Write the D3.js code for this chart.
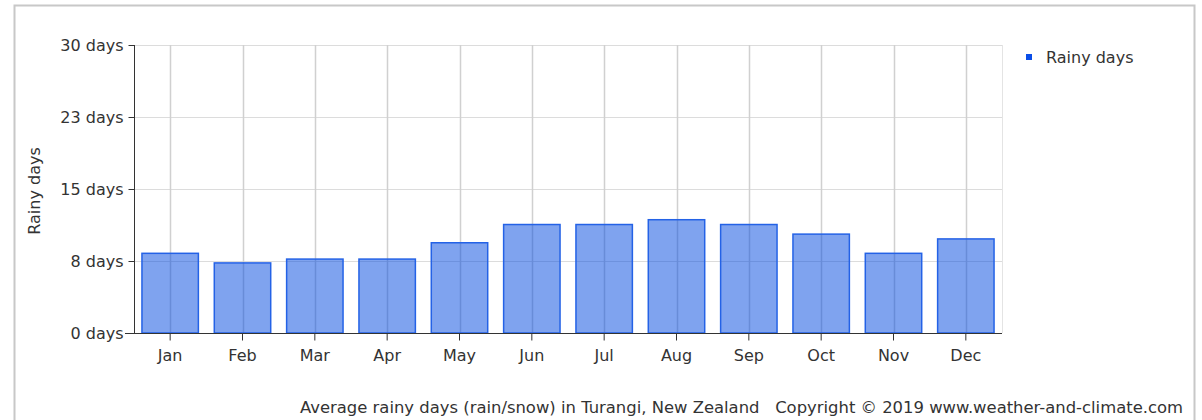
<!DOCTYPE html>
<html>
<head>
<title>Rainy days | Turangi</title>
<script src="https://d3js.org/d3.v7.min.js" charset="utf-8"></script>
<style>
 body { margin: 0; background: #fff; }
 text { font-family: Tahoma, "DejaVu Sans", "Liberation Sans", sans-serif; fill: #333; }
</style>
</head>
<body>
<script>
// chart data
var months = ["Jan","Feb","Mar","Apr","May","Jun","Jul","Aug","Sep","Oct","Nov","Dec"];
var rainyDays = [8.3, 7.3, 7.7, 7.7, 9.4, 11.3, 11.3, 11.8, 11.3, 10.3, 8.3, 9.8];
var yTicks = [0, 7.5, 15, 22.5, 30];
var yTickLabels = ["0 days", "8 days", "15 days", "23 days", "30 days"];

var width = 1202, height = 420;
var plotLeft = 134, plotRight = 1002, plotTop = 45, plotBottom = 333;
var fontFam = "Tahoma, 'DejaVu Sans', 'Liberation Sans', sans-serif";
var fs = 16;

var svg = d3.select("body").append("svg")
  .attr("width", width)
  .attr("height", height);

// outer frame
svg.append("path")
  .attr("d", "M14.5,430 V5.5 H1194.5 V430")
  .attr("fill", "none")
  .attr("stroke", "#c8c8c8")
  .attr("stroke-width", 2);

var x = d3.scaleBand().domain(months).range([plotLeft, plotRight]).paddingInner(0.22).paddingOuter(0.11);
var y = d3.scaleLinear().domain([0, 30]).range([plotBottom, plotTop]);

// grid
var grid = svg.append("g");
grid.selectAll(".hgrid")
  .data(yTicks)
  .enter().append("line")
  .attr("x1", plotLeft).attr("x2", plotRight)
  .attr("y1", function(d){ return Math.round(y(d)) + 0.5; })
  .attr("y2", function(d){ return Math.round(y(d)) + 0.5; })
  .attr("stroke", "#dcdcdc");
grid.selectAll(".vgrid")
  .data(months)
  .enter().append("line")
  .attr("x1", function(d){ return Math.round(x(d) + x.bandwidth()/2) + 0.5; })
  .attr("x2", function(d){ return Math.round(x(d) + x.bandwidth()/2) + 0.5; })
  .attr("y1", plotTop).attr("y2", plotBottom)
  .attr("stroke", "#d0d0d0")
  .attr("stroke-width", 1.5);
grid.append("line")
  .attr("x1", plotRight + 0.5).attr("x2", plotRight + 0.5)
  .attr("y1", plotTop).attr("y2", plotBottom)
  .attr("stroke", "#e4e4e4");

// bars
svg.append("g").selectAll("rect")
  .data(rainyDays)
  .enter().append("rect")
  .attr("x", function(d, i){ return x(months[i]); })
  .attr("width", x.bandwidth())
  .attr("y", function(d){ return y(d); })
  .attr("height", function(d){ return y(0) - y(d); })
  .attr("fill", "rgba(0,71,223,0.5)")
  .attr("stroke", "#2462e6")
  .attr("stroke-width", 1.5);

// y axis
var yAxis = d3.axisLeft(y)
  .tickValues(yTicks)
  .tickFormat(function(d, i){ return yTickLabels[i]; })
  .tickSize(6).tickPadding(5);
var gy = svg.append("g").attr("transform", "translate(" + (plotLeft + 0.5) + ",0)").call(yAxis);
gy.select(".domain").attr("stroke", "#333").attr("d", "M0," + plotTop + "V" + plotBottom);
gy.selectAll(".tick line").attr("stroke", "#333");
gy.selectAll("text").attr("font-size", fs).style("font-family", fontFam).attr("fill", "#333");

// x axis
var xAxis = d3.axisBottom(x).tickSize(7).tickPadding(9);
var gx = svg.append("g").attr("transform", "translate(0," + (plotBottom + 0.5) + ")").call(xAxis);
gx.select(".domain").attr("stroke", "#333").attr("d", "M" + (plotLeft - 9) + ",0H" + plotRight);
gx.selectAll(".tick line").attr("stroke", "#333");
gx.selectAll("text").attr("font-size", fs).style("font-family", fontFam).attr("fill", "#333");

// y axis title
svg.append("text")
  .attr("transform", "translate(40,191) rotate(-90)")
  .attr("text-anchor", "middle")
  .attr("font-size", fs)
  .text("Rainy days");

// legend
svg.append("rect")
  .attr("x", 1026).attr("y", 54).attr("width", 6).attr("height", 6)
  .attr("fill", "#0a4ee8");
svg.append("text")
  .attr("x", 1046).attr("y", 63)
  .attr("font-size", fs)
  .text("Rainy days");

// footer
svg.append("text")
  .attr("x", 300).attr("y", 413)
  .attr("font-size", fs)
  .attr("textLength", 883)
  .attr("lengthAdjust", "spacingAndGlyphs")
  .style("white-space", "pre")
  .text("Average rainy days (rain/snow) in Turangi, New Zealand   Copyright \u00a9 2019 www.weather-and-climate.com");
</script>
</body>
</html>
